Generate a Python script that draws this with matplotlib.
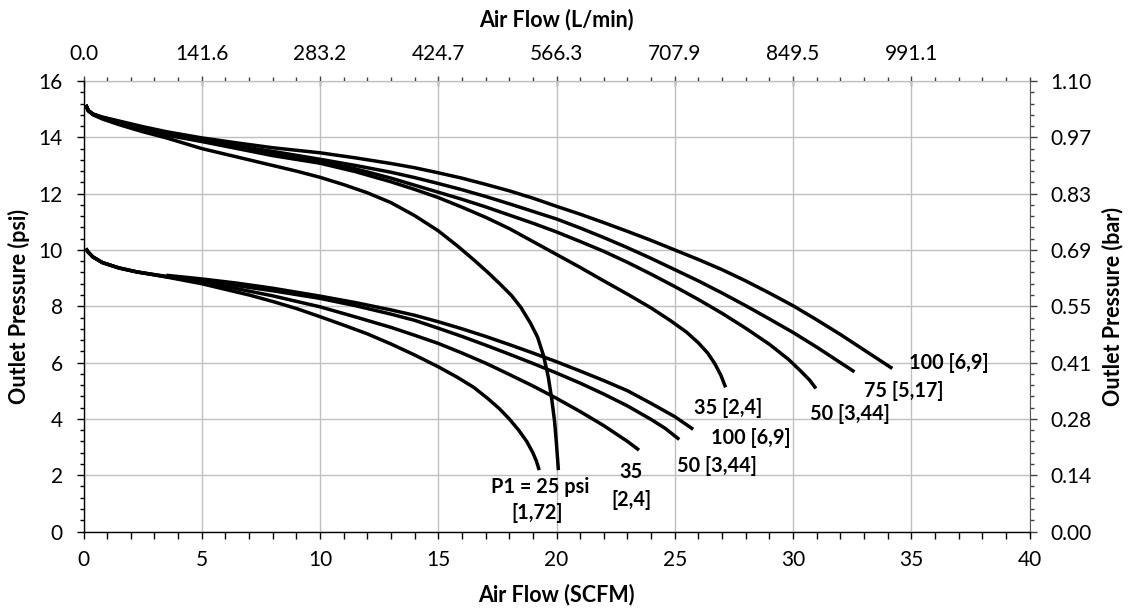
import numpy as np
import matplotlib
matplotlib.use("Agg")
import matplotlib.pyplot as plt
from matplotlib.ticker import MultipleLocator, FixedLocator, FormatStrFormatter

plt.rcParams['font.family'] = ['Lato', 'DejaVu Sans']

# ---------------- data ----------------
# Upper family (regulated ~15 psi outlet)
u100_x = [0.1, 0.2, 0.4, 0.8, 1.5, 2.5, 3.5, 5, 6.5, 8, 10, 11.5, 13, 14, 15, 16, 17, 18, 19, 20,
          21, 22, 23, 24, 25, 26, 27, 28, 29, 30, 31, 32, 33, 34.2]
u100_y = [15.15, 14.95, 14.83, 14.72, 14.58, 14.38, 14.2, 13.98, 13.8, 13.63, 13.45, 13.27, 13.07, 12.92, 12.74,
          12.55, 12.33, 12.1, 11.84, 11.55, 11.27, 10.97, 10.66, 10.34, 10.0, 9.66, 9.3, 8.9, 8.47, 8.02,
          7.52, 7.0, 6.45, 5.79]

u75_x = [0.1, 0.2, 0.4, 0.8, 1.5, 2.5, 3.5, 5, 6.5, 8, 10, 11.5, 13, 14, 15, 16, 17, 18, 19, 20,
         21, 22, 23, 24, 25, 26, 27, 28, 29, 30, 31, 32, 32.6]
u75_y = [15.15, 14.95, 14.82, 14.7, 14.55, 14.33, 14.15, 13.92, 13.7, 13.5, 13.22, 13.0, 12.76, 12.57, 12.36,
         12.14, 11.9, 11.64, 11.37, 11.1, 10.78, 10.44, 10.08, 9.7, 9.3, 8.9, 8.47, 8.02, 7.55, 7.07,
         6.55, 6.0, 5.67]

u50_x = [0.1, 0.2, 0.4, 0.8, 1.5, 2.5, 3.5, 5, 6.5, 8, 10, 11.5, 13, 14, 15, 16, 17, 18, 19, 20,
         21, 22, 23, 24, 25, 26, 27, 28, 29, 29.8, 30.3, 30.7, 30.97]
u50_y = [15.15, 14.95, 14.82, 14.7, 14.52, 14.3, 14.12, 13.88, 13.65, 13.42, 13.15, 12.88, 12.55, 12.3, 12.05,
         11.8, 11.53, 11.24, 10.95, 10.64, 10.3, 9.95, 9.56, 9.14, 8.7, 8.24, 7.75, 7.22, 6.65, 6.12,
         5.72, 5.38, 5.08]

u35_x = [0.1, 0.2, 0.4, 0.8, 1.5, 2.5, 3.5, 5, 6.5, 8, 10, 11.5, 13, 14, 15, 16, 17, 18, 19, 20,
         21, 22, 23, 24, 24.8, 25.5, 26, 26.4, 26.7, 26.95, 27.15]
u35_y = [15.15, 14.95, 14.82, 14.68, 14.5, 14.28, 14.08, 13.85, 13.6, 13.35, 13.08, 12.78, 12.42, 12.15, 11.86,
         11.52, 11.16, 10.76, 10.3, 9.84, 9.38, 8.9, 8.43, 7.94, 7.5, 7.08, 6.7, 6.33, 5.95, 5.55, 5.12]

u25_x = [0.1, 0.2, 0.4, 0.8, 1.5, 2.5, 3.5, 5, 6.5, 8, 9, 10, 11, 12, 13, 14, 15, 15.8, 16.5, 17.1,
         17.6, 18.1, 18.5, 18.9, 19.2, 19.45, 19.65, 19.8, 19.92, 20.0, 20.08]
u25_y = [15.15, 14.95, 14.8, 14.65, 14.45, 14.2, 13.98, 13.6, 13.3, 13.0, 12.8, 12.58, 12.32, 12.03, 11.68,
         11.22, 10.68, 10.15, 9.65, 9.2, 8.8, 8.38, 7.95, 7.4, 6.9, 6.25, 5.5, 4.7, 3.9, 3.1, 2.18]

# Lower family (regulated ~10 psi outlet)
l100_x = [3.5, 5, 6.5, 8, 10, 11.5, 13, 14, 15, 16, 17, 18, 19, 20, 21, 22, 23, 24, 25, 25.78]
l100_y = [9.1, 8.97, 8.82, 8.64, 8.36, 8.13, 7.87, 7.68, 7.45, 7.2, 6.93, 6.64, 6.34, 6.03, 5.7, 5.36, 5.0,
          4.55, 4.08, 3.63]

l50_x = [0.1, 0.2, 0.4, 0.8, 1.5, 2.25, 3.5, 5, 6.5, 8, 10, 11.5, 13, 14, 15, 16, 17, 18, 19, 20,
         21, 22, 23, 24, 24.6, 25.19]
l50_y = [10.05, 9.92, 9.75, 9.55, 9.36, 9.22, 9.06, 8.9, 8.73, 8.55, 8.28, 8.02, 7.72, 7.5, 7.22, 6.93, 6.62,
         6.3, 5.97, 5.63, 5.27, 4.88, 4.46, 3.98, 3.66, 3.27]

l35_x = [0.1, 0.2, 0.4, 0.8, 1.5, 2.25, 3.5, 5, 6.5, 8, 10, 11.5, 13, 14, 15, 16, 17, 18, 19, 20,
         21, 22, 23, 23.49]
l35_y = [10.05, 9.92, 9.75, 9.55, 9.36, 9.22, 9.05, 8.86, 8.62, 8.37, 7.98, 7.62, 7.25, 6.97, 6.68, 6.34, 5.98,
         5.58, 5.17, 4.73, 4.26, 3.76, 3.2, 2.89]

l25_x = [0.1, 0.2, 0.4, 0.8, 1.5, 2.25, 3.5, 5, 6, 7, 8, 9, 10, 11, 12, 13, 14, 15, 15.8, 16.5,
         17.1, 17.6, 18.0, 18.4, 18.74, 19.0, 19.15, 19.27]
l25_y = [10.05, 9.92, 9.75, 9.55, 9.36, 9.22, 9.04, 8.8, 8.6, 8.4, 8.17, 7.92, 7.63, 7.33, 7.02, 6.66, 6.27,
         5.85, 5.48, 5.12, 4.72, 4.35, 4.0, 3.6, 3.2, 2.8, 2.5, 2.18]

series = [(u100_x, u100_y), (u75_x, u75_y), (u50_x, u50_y), (u35_x, u35_y), (u25_x, u25_y),
          (l100_x, l100_y), (l50_x, l50_y), (l35_x, l35_y), (l25_x, l25_y)]

# curve labels: text, x, y
label_texts = ["100 [6,9]", "75 [5,17]", "50 [3,44]", "35 [2,4]",
               "100 [6,9]", "50 [3,44]", "35", "[2,4]", "P1 = 25 psi", "[1,72]"]
label_x = [36.6, 34.7, 32.4, 27.25, 28.2, 26.8, 23.15, 23.15, 19.3, 19.2]
label_y = [5.97, 5.0, 4.16, 4.4, 3.31, 2.34, 2.1, 1.12, 1.59, 0.65]

LPM_PER_SCFM = 28.316
LPM_MAJOR_STEP = 141.58
BAR_PER_PSI = 0.0689476

# ---------------- figure ----------------
W, H = 1128, 611
fig = plt.figure(figsize=(W / 100, H / 100), dpi=100)
L, R, T, B = 83.5, 1029.5, 81, 531.5
ax = fig.add_axes([L / W, 1 - B / H, (R - L) / W, (B - T) / H])

for xs, ys in series:
    ax.plot(xs, ys, color='black', lw=2.5, solid_joinstyle='round', solid_capstyle='butt', zorder=3)

for s, x, y in zip(label_texts, label_x, label_y):
    ax.text(x, y, s, ha='center', va='center', fontsize=14.3, fontweight='bold', color='black', zorder=4)

TICK_FS = 15
TITLE_FS = 15.5

ax.set_xlim(0, 40)
ax.set_ylim(0, 16)
ax.xaxis.set_major_locator(MultipleLocator(5))
ax.xaxis.set_minor_locator(MultipleLocator(1))
ax.yaxis.set_major_locator(MultipleLocator(2))
ax.yaxis.set_minor_locator(MultipleLocator(0.4))
ax.grid(True, which='major', color='#BFBFBF', lw=1.0, zorder=0)
ax.set_axisbelow(True)

for sp in ['top', 'right']:
    ax.spines[sp].set_visible(False)
for sp in ['left', 'bottom']:
    ax.spines[sp].set_color('black')
    ax.spines[sp].set_linewidth(1.0)

ax.tick_params(axis='x', which='both', direction='out', length=5, width=1, labelsize=TICK_FS, pad=8, colors='black')
ax.tick_params(axis='y', which='major', direction='out', length=5, width=1, labelsize=TICK_FS, pad=10)
ax.tick_params(axis='y', which='minor', direction='out', length=3, width=1)

ax.set_xlabel("Air Flow (SCFM)", fontsize=TITLE_FS, fontweight='bold')
ax.xaxis.label.set_va('center')
ax.xaxis.set_label_coords(0.5, (B - 595) / (B - T), transform=ax.transAxes)
ax.set_ylabel("Outlet Pressure (psi)", fontsize=TITLE_FS, fontweight='bold')
ax.yaxis.label.set_va('center')
ax.yaxis.set_label_coords((19 - L) / (R - L), 0.5, transform=ax.transAxes)

# top secondary axis (L/min)
top = ax.secondary_xaxis('top', functions=(lambda s: s * LPM_PER_SCFM, lambda l: l / LPM_PER_SCFM))
top.xaxis.set_major_locator(FixedLocator(np.arange(0, 1000, LPM_MAJOR_STEP)))
top.xaxis.set_minor_locator(FixedLocator(np.arange(0, 41) * LPM_PER_SCFM))
top.xaxis.set_major_formatter(FormatStrFormatter('%.1f'))
top.tick_params(axis='x', which='major', direction='inout', length=7, width=1, labelsize=TICK_FS, pad=9,
                colors='#404040', labelcolor='black')
top.tick_params(axis='x', which='minor', direction='out', length=3, width=1, colors='#404040')
top.spines['top'].set_color('#595959')
top.set_xlabel("Air Flow (L/min)", fontsize=TITLE_FS, fontweight='bold')
top.xaxis.label.set_va('center')
top.xaxis.set_label_coords(0.5, (B - 20) / (B - T), transform=ax.transAxes)

# right secondary axis (bar)
right = ax.secondary_yaxis('right', functions=(lambda p: p * BAR_PER_PSI, lambda b: b / BAR_PER_PSI))
right.yaxis.set_major_locator(FixedLocator(np.arange(0, 17, 2) * BAR_PER_PSI))
right.yaxis.set_minor_locator(FixedLocator(np.arange(0, 41) * 0.4 * BAR_PER_PSI))
right.yaxis.set_major_formatter(FormatStrFormatter('%.2f'))
right.tick_params(axis='y', which='major', direction='out', length=5, width=1, labelsize=TICK_FS, pad=10,
                  colors='#404040', labelcolor='black')
right.tick_params(axis='y', which='minor', direction='out', length=3, width=1, colors='#404040')
right.spines['right'].set_color('#595959')
right.set_ylabel("Outlet Pressure (bar)", fontsize=TITLE_FS, fontweight='bold')
right.yaxis.label.set_va('center')
right.yaxis.set_label_coords((1113 - L) / (R - L), 0.5, transform=ax.transAxes)

fig.savefig("out.png", dpi=100)
